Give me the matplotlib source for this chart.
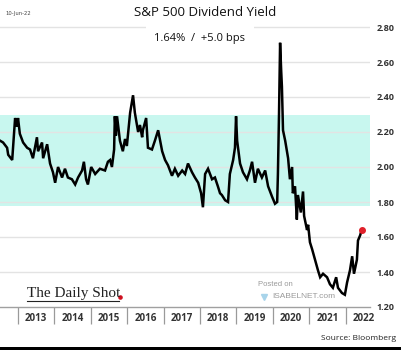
import matplotlib
matplotlib.use("Agg")
import matplotlib.pyplot as plt
from matplotlib.lines import Line2D
from matplotlib.patches import Rectangle

# ---- data (decimal years, dividend yield %) ----
dates = [2012.51, 2012.59, 2012.70, 2012.73, 2012.84, 2012.86, 2012.92, 2012.97, 2013.00, 2013.05,
         2013.14, 2013.25, 2013.33, 2013.41, 2013.52, 2013.55, 2013.66, 2013.69, 2013.80, 2013.88,
         2013.96, 2014.02, 2014.10, 2014.21, 2014.29, 2014.37, 2014.48, 2014.57, 2014.65, 2014.76,
         2014.81, 2014.87, 2014.92, 2015.01, 2015.12, 2015.25, 2015.39, 2015.47, 2015.53, 2015.58,
         2015.64, 2015.66, 2015.69, 2015.72, 2015.77, 2015.80, 2015.88, 2015.94, 2015.99, 2016.08,
         2016.16, 2016.21, 2016.30, 2016.35, 2016.41, 2016.43, 2016.52, 2016.57, 2016.68, 2016.76,
         2016.85, 2016.96, 2017.04, 2017.12, 2017.23, 2017.31, 2017.40, 2017.51, 2017.59, 2017.67,
         2017.78, 2017.86, 2017.95, 2018.03, 2018.08, 2018.14, 2018.22, 2018.33, 2018.41, 2018.49,
         2018.55, 2018.60, 2018.69, 2018.77, 2018.82, 2018.91, 2018.96, 2018.99, 2019.02, 2019.10,
         2019.18, 2019.29, 2019.37, 2019.43, 2019.51, 2019.59, 2019.70, 2019.79, 2019.87, 2019.98,
         2020.06, 2020.12, 2020.14, 2020.17, 2020.20, 2020.23, 2020.25, 2020.28, 2020.34, 2020.42,
         2020.47, 2020.53, 2020.55, 2020.61, 2020.66, 2020.69, 2020.77, 2020.83, 2020.86, 2020.94,
         2020.97, 2021.02, 2021.08, 2021.16, 2021.24, 2021.30, 2021.38, 2021.49, 2021.57, 2021.65,
         2021.74, 2021.79, 2021.90, 2021.98, 2022.04, 2022.12, 2022.18, 2022.23, 2022.31, 2022.34,
         2022.40, 2022.44]
yields = [2.15, 2.14, 2.11, 2.07, 2.04, 2.10, 2.28, 2.23, 2.28, 2.19,
          2.14, 2.11, 2.10, 2.05, 2.17, 2.09, 2.14, 2.05, 2.13, 2.02,
          1.97, 1.91, 2.00, 1.94, 1.99, 1.94, 1.93, 1.90, 1.94, 1.98,
          2.03, 1.93, 1.90, 2.00, 1.96, 1.99, 1.98, 2.03, 2.04, 2.00,
          2.10, 2.29, 2.18, 2.29, 2.20, 2.15, 2.09, 2.16, 2.12, 2.31,
          2.41, 2.31, 2.20, 2.24, 2.17, 2.21, 2.28, 2.11, 2.10, 2.15,
          2.21, 2.09, 2.04, 2.01, 1.95, 1.99, 1.95, 1.98, 1.96, 2.02,
          1.97, 1.94, 1.91, 1.85, 1.77, 1.96, 1.99, 1.93, 1.94, 1.89,
          1.85, 1.84, 1.81, 1.80, 1.96, 2.04, 2.11, 2.29, 2.15, 2.02,
          1.97, 1.93, 1.98, 2.03, 1.91, 1.99, 1.94, 1.98, 1.89, 1.83,
          1.79, 1.80, 1.96, 2.30, 2.71, 2.55, 2.46, 2.21, 2.15, 2.05,
          1.93, 2.00, 1.85, 1.89, 1.70, 1.84, 1.74, 1.86, 1.72, 1.64,
          1.67, 1.57, 1.53, 1.47, 1.41, 1.37, 1.39, 1.37, 1.33, 1.31,
          1.37, 1.31, 1.28, 1.27, 1.34, 1.41, 1.49, 1.39, 1.47, 1.58,
          1.61, 1.64]
band_low, band_high = 1.78, 2.30
y_ticks = [1.20, 1.40, 1.60, 1.80, 2.00, 2.20, 2.40, 2.60, 2.80]
years = [2013, 2014, 2015, 2016, 2017, 2018, 2019, 2020, 2021, 2022]

W, H = 402, 350
fig = plt.figure(figsize=(W / 100, H / 100), dpi=100)
fig.patch.set_facecolor("white")
ax = fig.add_axes([0, 1 - 307 / H, 370 / W, (307 - 20) / H])

ax.set_xlim(2012.505, 2022.67)
ax.set_ylim(1.20, 2.84)

ax.axhspan(band_low, band_high, color="#c8f7ef", zorder=0, lw=0)
for v in y_ticks[1:]:
    ax.axhline(v, color="#e3e3e3", lw=1.0, zorder=1)

ax.plot(dates, yields, color="black", lw=1.8, zorder=3, solid_joinstyle="miter")
ax.plot([dates[-1]], [yields[-1]], "o", color="#e0202a", ms=4, zorder=4)

for s in ["top", "left", "right"]:
    ax.spines[s].set_visible(False)
ax.spines["bottom"].set_color("#a0a0a0")
ax.spines["bottom"].set_linewidth(1.0)

ax.yaxis.tick_right()
ax.set_yticks(y_ticks)
ax.set_yticklabels([f"{v:.2f}" for v in y_ticks], fontsize=6.5, fontweight="bold", color="#333333",
                   family="Open Sans")
ax.tick_params(axis="y", length=0, pad=5)

ax.set_xticks(years)
ax.set_xticklabels([])
ax.set_xticks([y + 0.5 for y in years], minor=True)
ax.set_xticklabels([str(y) for y in years], minor=True, fontsize=7, fontweight="bold",
                   color="#333333", family="Open Sans")
ax.tick_params(axis="x", which="major", length=12, width=0.9, color="#9a9a9a", direction="out")
ax.tick_params(axis="x", which="minor", length=0, pad=4)

# texts
fig.text(205 / W, 1 - 12 / H, "S&P 500 Dividend Yield", ha="center", va="center", fontsize=9.5,
         family="Open Sans", color="#111111")
fig.text(200 / W, 1 - 38 / H, "1.64%  /  +5.0 bps", ha="center", va="center", fontsize=8,
         family="Open Sans", color="#111111",
         bbox=dict(facecolor="white", edgecolor="none", pad=6))
fig.text(5 / W, 1 - 14 / H, "10-Jun-22", ha="left", va="center", fontsize=3.8, color="#444444")
fig.text(396 / W, 1 - 338 / H, "Source: Bloomberg", ha="right", va="center", fontsize=6,
         family="Open Sans", color="#222222")

fig.text(27 / W, 1 - 297 / H, "The Daily Shot", ha="left", va="baseline", fontsize=11,
         family="Liberation Serif", color="#222222")
fig.add_artist(Line2D([27 / W, 119 / W], [1 - 301 / H, 1 - 301 / H], color="#222222", lw=0.8))
fig.add_artist(Line2D([120 / W], [1 - 297 / H], marker="o", ms=2.3, color="#d01020", lw=0))

fig.text(258 / W, 1 - 285 / H, "Posted on", ha="left", va="center", fontsize=5.5,
         color="#9a9a9a", family="Liberation Sans")
fig.text(272 / W, 1 - 297 / H, "ISABELNET.com", ha="left", va="center", fontsize=6,
         color="#9a9a9a", family="Liberation Sans")
fig.add_artist(Line2D([264 / W], [1 - 297 / H], marker="v", ms=5, color="#a8d4ea", lw=0))

fig.add_artist(Rectangle((0, 0), 1, 3 / H, transform=fig.transFigure, color="black", lw=0))

fig.savefig("out.png", dpi=100)
